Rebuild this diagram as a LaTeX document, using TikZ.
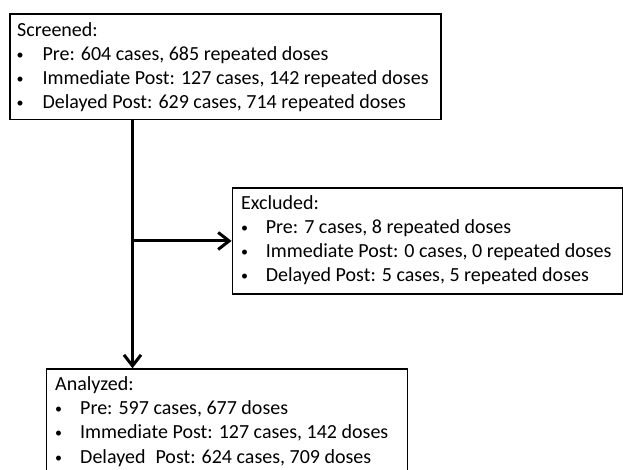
\documentclass[tikz,border=0pt]{standalone}
\usepackage{fontspec}
\setmainfont{Carlito}
\usetikzlibrary{arrows.meta}
\begin{document}
\begin{tikzpicture}[x=1pt,y=-1pt,
  box/.style={draw=black, line width=1.7pt, inner sep=0pt, anchor=north west},
  txt/.style={anchor=base west, inner sep=0pt, font=\fontsize{20}{24}\selectfont},
  bul/.style={anchor=base, inner sep=0pt, font=\fontsize{14}{16}\selectfont, yshift=1pt},
  arr/.style={line width=3pt, -{Straight Barb[length=11pt,width=17pt]}}]
\clip (0,0) rectangle (623,469);
\fill[white] (0,0) rectangle (623,469);
% boxes
\node[box, minimum width=431pt, minimum height=105.5pt] (scr) at (9,13) {};
\node[box, minimum width=389.9pt, minimum height=105.6pt] (exc) at (231.6,187.3) {};
\node[box, minimum width=361pt, minimum height=115pt] (ana) at (45.7,368.3) {};
% texts: Screened
\node[txt] (scrT) at (17,36) {Screened:};
\node[bul] (scrB1) at (20,60) {•};
\node[bul] (scrB2) at (20,84) {•};
\node[bul] (scrB3) at (20,108) {•};
\node[txt] (scr1) at (42.3,60) {Pre: 604 cases, 685 repeated doses};
\node[txt] (scr2) at (42.3,84) {Immediate Post: 127 cases, 142 repeated doses};
\node[txt] (scr3) at (42.3,108) {Delayed Post: 629 cases, 714 repeated doses};
% texts: Excluded
\node[txt] (excT) at (241,209.5) {Excluded:};
\node[bul] (excB1) at (244.5,233.5) {•};
\node[bul] (excB2) at (244.5,257.5) {•};
\node[bul] (excB3) at (244.5,281.5) {•};
\node[txt] (exc1) at (265.7,233.5) {Pre: 7 cases, 8 repeated doses};
\node[txt] (exc2) at (265.7,257.5) {Immediate Post: 0 cases, 0 repeated doses};
\node[txt] (exc3) at (265.7,281.5) {Delayed Post: 5 cases, 5 repeated doses};
% texts: Analyzed
\node[txt] (anaT) at (55,390.5) {Analyzed:};
\node[bul] (anaB1) at (58.5,414.5) {•};
\node[bul] (anaB2) at (58.5,438.8) {•};
\node[bul] (anaB3) at (58.5,463) {•};
\node[txt] (ana1) at (80,414.5) {Pre: 597 cases, 677 doses};
\node[txt] (ana2) at (80,438.8) {Immediate Post: 127 cases, 142 doses};
\node[txt] (ana3) at (80,463) {Delayed\hspace{0.5em}Post: 624 cases, 709 doses};
% connectors
\coordinate (trunk) at (132.5,0);
\draw[arr] (scr.south -| trunk) -- (ana.north -| trunk);
\draw[line width=3pt] (exc.west -| trunk) -- ++(5,0) coordinate (br);
\draw[arr] (br) -- (exc.west);
\end{tikzpicture}
\end{document}
